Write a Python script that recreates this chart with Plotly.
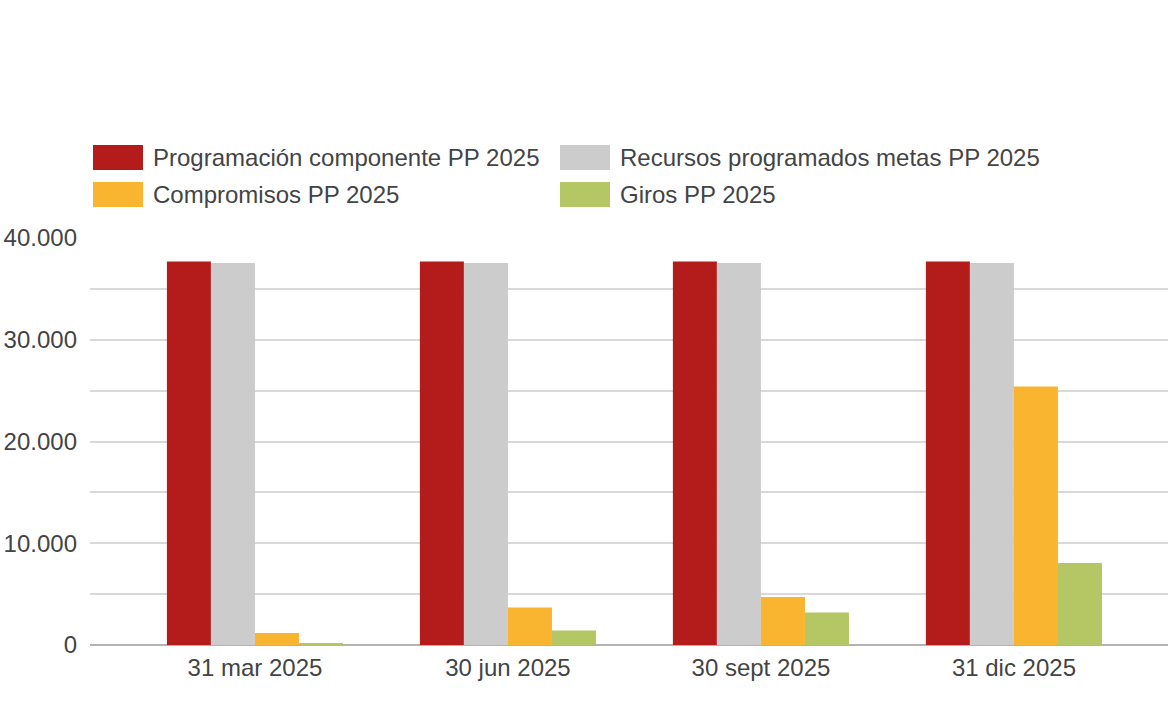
import plotly.graph_objects as go

categories = ["31 mar 2025", "30 jun 2025", "30 sept 2025", "31 dic 2025"]
series_names = ["Programación componente PP 2025", "Recursos programados metas PP 2025",
                "Compromisos PP 2025", "Giros PP 2025"]
programacion = [37700, 37700, 37700, 37700]
recursos = [37550, 37550, 37550, 37550]
compromisos = [1180, 3690, 4710, 25400]
giros = [150, 1430, 3200, 8060]
colors = ["#b41c1c", "#cccccc", "#f9b52f", "#b5c665"]
ytick_vals = [0, 10000, 20000, 30000, 40000]
ytick_text = ["0", "10.000", "20.000", "30.000", "40.000"]

FONT = "Liberation Sans, Arial, sans-serif"
TXT = "#444444"
FS = 24

fig = go.Figure()
for name, vals, col in zip(series_names, [programacion, recursos, compromisos, giros], colors):
    fig.add_trace(go.Bar(x=categories, y=vals, name=name, marker_color=col,
                         marker_line_width=0, showlegend=False))

W, H = 1170, 721
L, R, T, B = 90, 2, 238, 76
pw, ph = W - L - R, H - T - B

def px(x):
    return (x - L) / pw

def py(y):
    return (H - B - y) / ph

shapes = []
annotations = []
legend_pos = [(93, 145), (560, 145), (93, 182), (560, 182)]
for (x0, y0), name, col in zip(legend_pos, series_names, colors):
    shapes.append(dict(type="rect", xref="paper", yref="paper",
                       x0=px(x0), x1=px(x0 + 50), y0=py(y0 + 25), y1=py(y0),
                       fillcolor=col, line_width=0, layer="above"))
    annotations.append(dict(xref="paper", yref="paper", x=px(x0 + 58), y=py(y0 + 12.5),
                            xanchor="left", yanchor="middle", text=name, showarrow=False,
                            font=dict(family=FONT, size=FS, color=TXT)))

fig.update_layout(
    width=W, height=H,
    margin=dict(l=L, r=R, t=T, b=B, pad=0, autoexpand=False),
    paper_bgcolor="white", plot_bgcolor="white",
    barmode="group", bargap=0.304, bargroupgap=0,
    shapes=shapes, annotations=annotations,
    font=dict(family=FONT, size=FS, color=TXT),
    xaxis=dict(range=[-0.652, 3.609], showgrid=False, showline=False, ticks="",
               ticklabelstandoff=6, automargin=False,
               tickfont=dict(family=FONT, size=FS, color=TXT)),
    yaxis=dict(range=[0, 40000], tickvals=ytick_vals, ticktext=ytick_text,
               showgrid=True, gridcolor="#d9d9d9", gridwidth=1.5,
               minor=dict(dtick=5000, showgrid=True, gridcolor="#d9d9d9", gridwidth=1.5),
               zeroline=True, zerolinecolor="#b3b3b3", zerolinewidth=2,
               showline=False, ticks="", ticklabelstandoff=12, automargin=False,
               tickfont=dict(family=FONT, size=FS, color=TXT)),
)

fig.write_html("out.html", config={"displayModeBar": False},
               post_script="document.body.style.margin='0';document.body.style.overflow='hidden';")
